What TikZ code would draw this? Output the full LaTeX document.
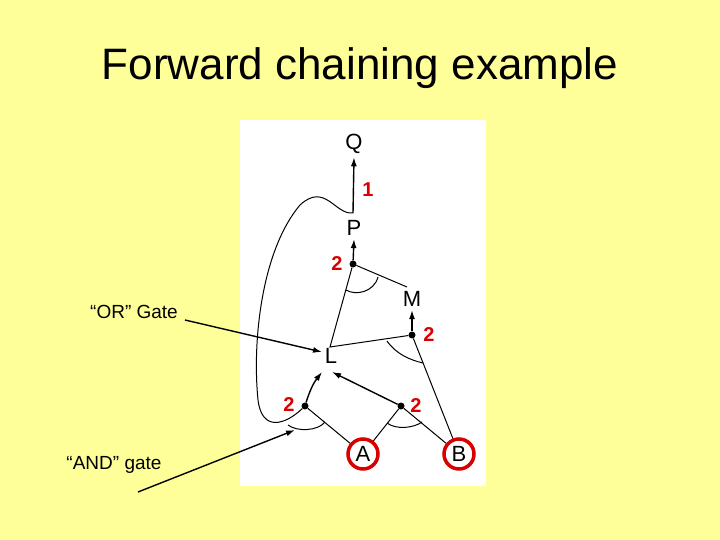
\documentclass[tikz,border=0pt]{standalone}
\usepackage{fontspec}
\setmainfont{Liberation Sans}
\usetikzlibrary{arrows.meta}
\begin{document}
\begin{tikzpicture}[x=1pt,y=-1pt,
  ln/.style={line width=1pt},
  ar/.style={line width=1.4pt,-{Latex[length=9pt,width=6pt]}},
  dot/.style={circle,fill,inner sep=0pt,minimum size=7pt},
  lbl/.style={font=\fontsize{22}{22}\selectfont},
  num/.style={text=red!85!black,font=\bfseries\fontsize{20}{20}\selectfont},
  circ/.style={circle,draw=red!85!black,line width=3.5pt,minimum size=30pt,inner sep=0pt,font=\fontsize{22}{22}\selectfont}]
\definecolor{bg}{HTML}{FFFF99}
\fill[bg] (0,0) rectangle (720,540);
\useasboundingbox (0,0) rectangle (720,540);
\node (title) at (360,68) {\fontsize{44}{44}\selectfont Forward chaining example};
\fill[white] (240,120) rectangle (486,486);
\node[lbl] (Q) at (354,144) {Q};
\node[lbl] (Pl) at (354,228) {P};
\coordinate (P) at (353,213);
\node[lbl] (M) at (412,299) {M};
\coordinate (Mt) at (407,287);
\node[lbl] (Ll) at (331,356) {L};
\coordinate (L) at (330,347);
\node[dot] (dp) at (353,264) {};
\node[dot] (dm) at (412,335) {};
\node[dot] (d1) at (305,406) {};
\node[dot] (d2) at (401,406) {};
\node[circ] (A) at (363,454) {A};
\node[circ] (B) at (459,454) {B};
\node[num] at (368,190) {1};
\node[num] at (337,264) {2};
\node[num] at (429,335) {2};
\node[num] at (289,405) {2};
\node[num] at (416,406) {2};
\draw[ar] (P) -- (Q.south);
\draw[ar] (dp) -- (Pl.south);
\draw[ar] (dm) -- (M.south);
\draw[ln] (dp) -- (Mt);
\draw[ln] (dp) -- (L) -- (dm) -- (B);
\draw[ln] (d1) -- (A);
\draw[ln] (d2) -- (A);
\draw[ln] (d2) -- (B);
\draw[ar] (d1) to[bend left=10] (322,372);
\draw[ar] (d2) -- (332,372);
\draw[ln] (d1) .. controls (285,425) and (262,432) .. (258,400)
  .. controls (252,340) and (262,250) .. (300,205)
  .. controls (325,182) and (335,215) .. (P);
\draw[ln] (346,290) .. controls (356,296) and (374,292) .. (378,277);
\draw[ln] (387,341) .. controls (396,354) and (410,360) .. (423,363);
\draw[ln] (288,425) .. controls (297,432) and (318,431) .. (325,422);
\draw[ln] (387,423) .. controls (396,430) and (414,428) .. (422,422);
\node (or) at (134,312) {\fontsize{19}{19}\selectfont “OR” Gate};
\node (and) at (114,465) {\fontsize{19}{19}\selectfont “AND” gate};
\coordinate (orE) at (322,352);
\coordinate (andE) at (295,430);
\draw[ar] (185,320) -- (orE);
\draw[ar] (138,492) -- (andE);
\end{tikzpicture}
\end{document}
